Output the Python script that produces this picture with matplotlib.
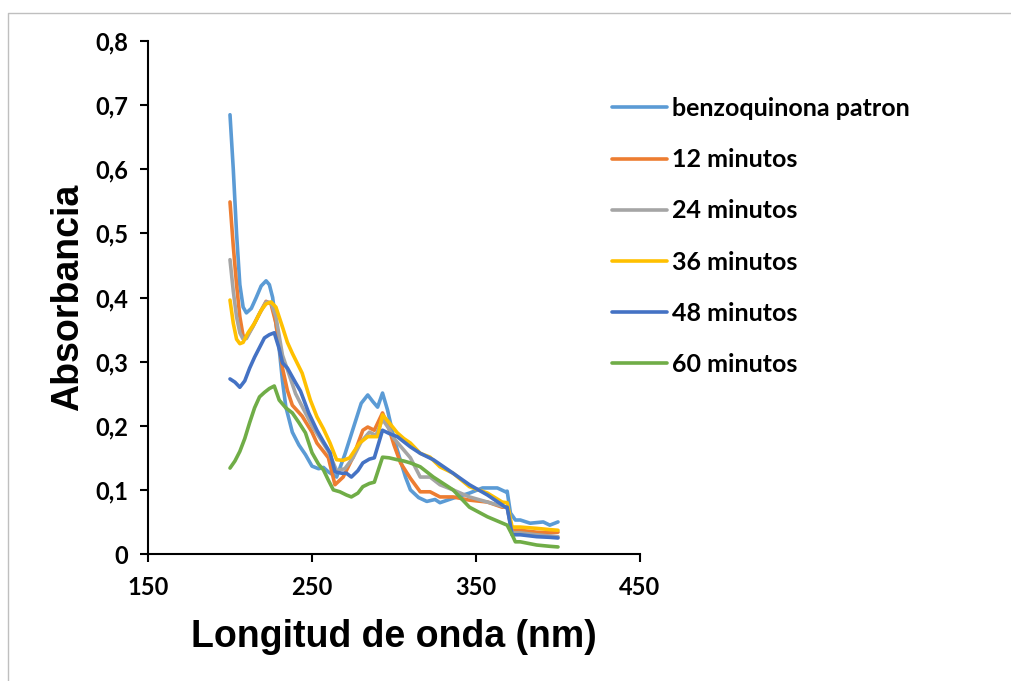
import matplotlib
matplotlib.use("Agg")
import matplotlib.pyplot as plt
from matplotlib.lines import Line2D
from matplotlib.ticker import FuncFormatter

# wavelength (nm) / absorbance
wl_patron = [200, 202, 204, 206, 208, 210, 213, 216, 219, 222, 224, 226, 228, 230, 232, 234,
             238, 242, 246, 250, 254, 257, 260, 265, 270, 275, 280, 284, 287, 290, 293, 296,
             300, 304, 307, 310, 315, 320, 325, 328, 336, 346, 354, 363, 368, 369, 371, 374,
             377, 383, 391, 395, 400]
abs_patron = [0.685, 0.60, 0.50, 0.42, 0.385, 0.376, 0.383, 0.40, 0.418, 0.426, 0.42, 0.40, 0.36, 0.32, 0.27, 0.23,
              0.19, 0.17, 0.155, 0.137, 0.133, 0.135, 0.128, 0.12, 0.155, 0.195, 0.235, 0.248, 0.238, 0.229, 0.251, 0.225,
              0.18, 0.145, 0.12, 0.10, 0.088, 0.082, 0.085, 0.08, 0.087, 0.095, 0.103, 0.103, 0.097, 0.098, 0.064, 0.053,
              0.053, 0.048, 0.05, 0.045, 0.05]

wl_12 = [200, 202, 204, 206, 208, 210, 214, 218, 222, 225, 228, 232, 235, 238, 244, 250, 253, 257, 260, 264,
         269, 275, 281, 284, 288, 293, 297, 300, 304, 310, 316, 322, 328, 336, 346, 357, 366, 369, 372, 377,
         387, 395, 400]
abs_12 = [0.549, 0.48, 0.42, 0.37, 0.34, 0.338, 0.355, 0.375, 0.394, 0.39, 0.36, 0.29, 0.255, 0.232, 0.215, 0.19, 0.173, 0.16, 0.15, 0.108,
          0.12, 0.151, 0.193, 0.198, 0.193, 0.22, 0.195, 0.17, 0.142, 0.118, 0.097, 0.097, 0.089, 0.089, 0.084, 0.081, 0.073, 0.073, 0.037, 0.037,
          0.034, 0.033, 0.034]

wl_24 = [200, 202, 204, 206, 208, 210, 214, 218, 222, 225, 228, 232, 236, 240, 245, 250, 255, 260, 265, 270,
         275, 280, 285, 289, 293, 297, 300, 305, 310, 316, 322, 328, 336, 346, 357, 368, 369, 372, 377, 387,
         395, 400]
abs_24 = [0.459, 0.41, 0.37, 0.345, 0.335, 0.336, 0.355, 0.375, 0.393, 0.392, 0.37, 0.31, 0.28, 0.25, 0.225, 0.2, 0.18, 0.16, 0.13, 0.133,
          0.15, 0.175, 0.19, 0.185, 0.21, 0.195, 0.18, 0.165, 0.15, 0.12, 0.12, 0.108, 0.10, 0.089, 0.081, 0.073, 0.073, 0.033, 0.033, 0.03,
          0.028, 0.027]

wl_36 = [200, 202, 204, 206, 208, 211, 215, 219, 222, 225, 228, 232, 235, 238, 244, 249, 253, 257, 261, 265,
         269, 273, 279, 284, 290, 293, 297, 302, 306, 310, 316, 322, 328, 336, 346, 357, 366, 369, 372, 377,
         387, 395, 400]
abs_36 = [0.396, 0.36, 0.335, 0.328, 0.33, 0.345, 0.36, 0.38, 0.39, 0.393, 0.385, 0.354, 0.33, 0.313, 0.282, 0.24, 0.214, 0.195, 0.173, 0.147,
          0.146, 0.15, 0.173, 0.183, 0.183, 0.217, 0.205, 0.189, 0.18, 0.173, 0.157, 0.151, 0.136, 0.126, 0.105, 0.095, 0.081, 0.08, 0.042, 0.042,
          0.04, 0.038, 0.037]

wl_48 = [200, 203, 206, 209, 212, 215, 218, 221, 224, 227, 230, 232, 235, 240, 243, 248, 253, 257, 261, 264,
         268, 271, 274, 278, 281, 285, 288, 293, 297, 302, 306, 310, 316, 324, 336, 346, 357, 368, 369, 372,
         377, 387, 395, 400]
abs_48 = [0.273, 0.268, 0.26, 0.27, 0.29, 0.307, 0.322, 0.337, 0.342, 0.345, 0.32, 0.298, 0.29, 0.267, 0.254, 0.22, 0.193, 0.175, 0.158, 0.128,
          0.126, 0.126, 0.12, 0.13, 0.142, 0.148, 0.15, 0.193, 0.188, 0.183, 0.175, 0.167, 0.157, 0.147, 0.126, 0.108, 0.092, 0.073, 0.073, 0.03,
          0.03, 0.027, 0.026, 0.025]

wl_60 = [200, 203, 206, 209, 212, 215, 218, 221, 224, 227, 230, 234, 238, 242, 246, 250, 254, 257, 260, 263,
         267, 271, 274, 278, 281, 285, 288, 293, 297, 302, 306, 310, 316, 324, 336, 346, 357, 369, 372, 374,
         377, 387, 395, 400]
abs_60 = [0.134, 0.145, 0.16, 0.18, 0.205, 0.228, 0.245, 0.252, 0.258, 0.262, 0.24, 0.228, 0.22, 0.205, 0.189, 0.158, 0.14, 0.131, 0.115, 0.10,
          0.097, 0.092, 0.089, 0.095, 0.105, 0.11, 0.112, 0.151, 0.15, 0.147, 0.145, 0.142, 0.136, 0.12, 0.10, 0.073, 0.058, 0.045, 0.03, 0.019,
          0.019, 0.014, 0.012, 0.011]

series = [
    ("benzoquinona patron", wl_patron, abs_patron, "#5B9BD5"),
    ("12 minutos", wl_12, abs_12, "#ED7D31"),
    ("24 minutos", wl_24, abs_24, "#A5A5A5"),
    ("36 minutos", wl_36, abs_36, "#FFC000"),
    ("48 minutos", wl_48, abs_48, "#4472C4"),
    ("60 minutos", wl_60, abs_60, "#70AD47"),
]

x_ticks = [150, 250, 350, 450]
y_ticks = [0, 0.1, 0.2, 0.3, 0.4, 0.5, 0.6, 0.7, 0.8]

W, H = 1011, 681
fig = plt.figure(figsize=(W / 100, H / 100), dpi=100)
# chart frame: only the left and top edges show in the reference
x0, y0 = 7.5 / W, 1 - 12.5 / H
fig.lines.append(Line2D([x0, x0, 1.0], [0.0, y0, y0], transform=fig.transFigure,
                        color="#BFBFBF", linewidth=1))

ax = fig.add_axes([148 / W, 1 - 554 / H, 492 / W, 513 / H])
for name, x, y, c in series:
    ax.plot(x, y, color=c, linewidth=2.6, label=name, solid_joinstyle="round", solid_capstyle="round")

ax.set_xlim(150, 450)
ax.set_ylim(0, 0.8)
ax.set_xticks(x_ticks)
ax.set_yticks(y_ticks)
ax.yaxis.set_major_formatter(FuncFormatter(lambda v, p: "0" if v == 0 else f"{v:.1f}".replace(".", ",")))

for s in ["top", "right"]:
    ax.spines[s].set_visible(False)
for s in ["left", "bottom"]:
    ax.spines[s].set_linewidth(1.5)
ax.tick_params(direction="out", length=6, width=1.5)
ax.tick_params(axis="y", pad=8)
ax.tick_params(axis="x", pad=10)
for lab in ax.get_xticklabels() + ax.get_yticklabels():
    lab.set_fontfamily("Lato")
    lab.set_fontweight("bold")
    lab.set_fontsize(17)

ax.set_xlabel("Longitud de onda (nm)", fontfamily="Liberation Sans", fontweight="bold", fontsize=27, labelpad=14)
ax.set_ylabel("Absorbancia", fontfamily="Liberation Sans", fontweight="bold", fontsize=27, labelpad=7)

fig.legend(loc="upper left", bbox_to_anchor=(612 / W, 1 - 97 / H), frameon=False,
           prop={"family": "Lato", "weight": "bold", "size": 18},
           handlelength=2.2, handletextpad=0.2, labelspacing=1.13, borderpad=0, borderaxespad=0)

fig.savefig("out.png", dpi=100)
